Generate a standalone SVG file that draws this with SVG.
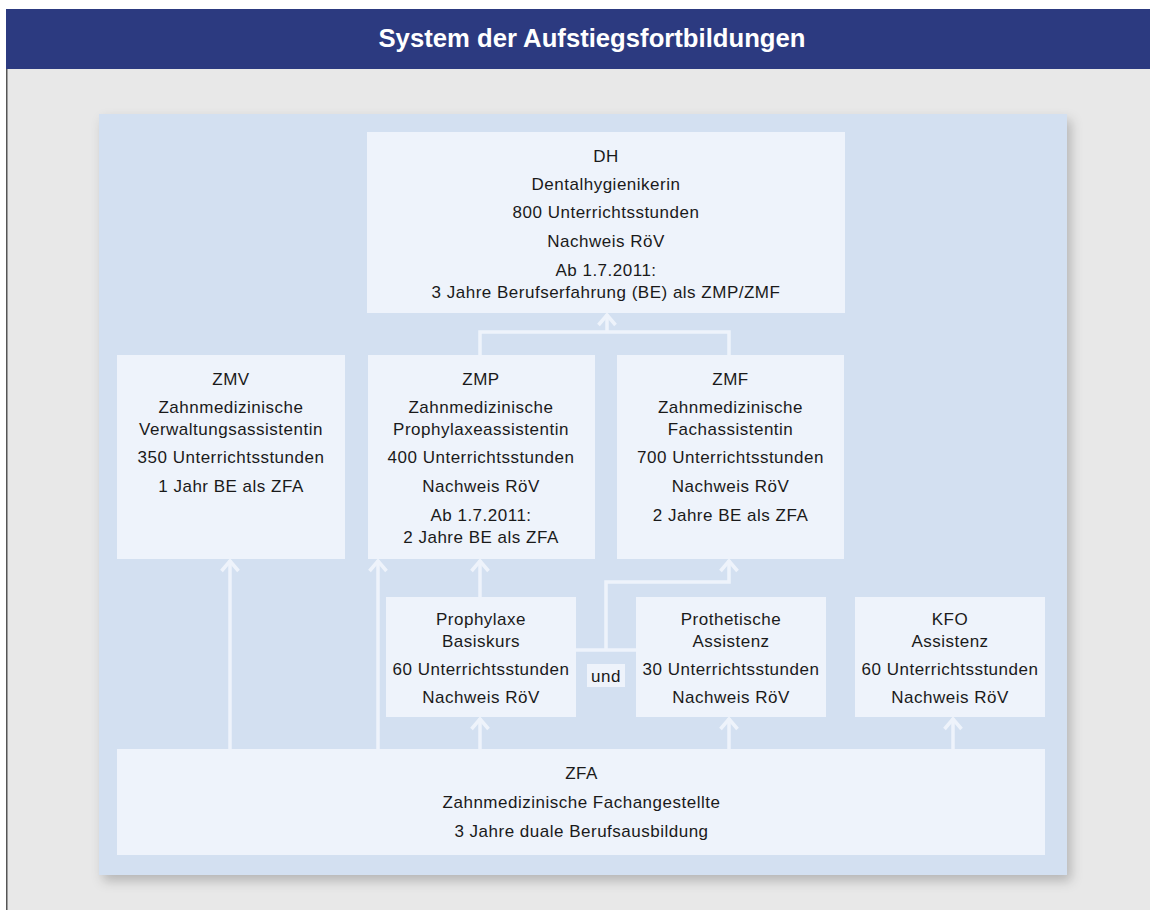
<svg xmlns="http://www.w3.org/2000/svg" width="1150" height="910" viewBox="0 0 1150 910">
  <defs>
    <filter id="shadow" x="-5%" y="-5%" width="110%" height="110%">
      <feDropShadow dx="4" dy="6" stdDeviation="6" flood-color="#000" flood-opacity="0.22"/>
    </filter>
    <marker id="arr" markerUnits="userSpaceOnUse" markerWidth="24" markerHeight="24" viewBox="-14 -12 16 24" refX="0" refY="0" orient="auto">
      <path d="M -11,-8.5 L -1,0 L -11,8.5" fill="none" stroke="#eef3fb" stroke-width="3.5" stroke-linejoin="miter"/>
    </marker>
    <style>
      .box { fill: #eef3fb; }
      .t { font-family: "Liberation Sans", Arial, sans-serif; font-size: 17px; letter-spacing: 0.5px; fill: #1a1a1a; text-anchor: middle; }
      .title { font-family: "Liberation Sans", Arial, sans-serif; font-weight: bold; font-size: 26px; fill: #ffffff; text-anchor: middle; }
      .c { fill: none; stroke: #eef3fb; stroke-width: 3.5; }
      .a { marker-end: url(#arr); }
    </style>
  </defs>

  <rect x="0" y="0" width="1150" height="910" fill="#ffffff"/>
  <rect x="6" y="69" width="1144" height="841" fill="#e8e8e8"/>
  <rect x="6" y="69" width="1.5" height="841" fill="#555555"/>
  <rect x="6" y="9" width="1144" height="60" fill="#2c3a80"/>
  <text class="title" x="592" y="47" textLength="427" lengthAdjust="spacingAndGlyphs">System der Aufstiegsfortbildungen</text>

  <rect x="99" y="114" width="968" height="761" fill="#d3e0f1" filter="url(#shadow)"/>

  <g id="connectors">
    <polyline class="c" points="480,355 480,332 729,332 729,355"/>
    <line class="c a" x1="607" y1="332" x2="607" y2="314"/>
    <line class="c a" x1="230" y1="749" x2="230" y2="560"/>
    <line class="c a" x1="378" y1="749" x2="378" y2="560"/>
    <line class="c a" x1="480" y1="597" x2="480" y2="560"/>
    <line class="c a" x1="480" y1="749" x2="480" y2="718"/>
    <line class="c a" x1="729" y1="749" x2="729" y2="718"/>
    <line class="c a" x1="953" y1="749" x2="953" y2="718"/>
    <line class="c" x1="576" y1="650" x2="636" y2="650"/>
    <polyline class="c a" points="606,650 606,582 729,582 729,560"/>
  </g>

  <g id="dh">
    <rect class="box" x="367" y="132" width="478" height="181"/>
    <text class="t" x="606" y="162">DH</text>
    <text class="t" x="606" y="190">Dentalhygienikerin</text>
    <text class="t" x="606" y="218">800 Unterrichtsstunden</text>
    <text class="t" x="606" y="247">Nachweis RöV</text>
    <text class="t" x="606" y="276">Ab 1.7.2011:</text>
    <text class="t" x="606" y="298">3 Jahre Berufserfahrung (BE) als ZMP/ZMF</text>
  </g>

  <g id="zmv">
    <rect class="box" x="117" y="355" width="228" height="204"/>
    <text class="t" x="231" y="385">ZMV</text>
    <text class="t" x="231" y="413">Zahnmedizinische</text>
    <text class="t" x="231" y="435">Verwaltungsassistentin</text>
    <text class="t" x="231" y="463">350 Unterrichtsstunden</text>
    <text class="t" x="231" y="492">1 Jahr BE als ZFA</text>
  </g>

  <g id="zmp">
    <rect class="box" x="368" y="355" width="227" height="204"/>
    <text class="t" x="481" y="385">ZMP</text>
    <text class="t" x="481" y="413">Zahnmedizinische</text>
    <text class="t" x="481" y="435">Prophylaxeassistentin</text>
    <text class="t" x="481" y="463">400 Unterrichtsstunden</text>
    <text class="t" x="481" y="492">Nachweis RöV</text>
    <text class="t" x="481" y="521">Ab 1.7.2011:</text>
    <text class="t" x="481" y="543">2 Jahre BE als ZFA</text>
  </g>

  <g id="zmf">
    <rect class="box" x="617" y="355" width="227" height="204"/>
    <text class="t" x="730.5" y="385">ZMF</text>
    <text class="t" x="730.5" y="413">Zahnmedizinische</text>
    <text class="t" x="730.5" y="435">Fachassistentin</text>
    <text class="t" x="730.5" y="463">700 Unterrichtsstunden</text>
    <text class="t" x="730.5" y="492">Nachweis RöV</text>
    <text class="t" x="730.5" y="521">2 Jahre BE als ZFA</text>
  </g>

  <g id="prophylaxe">
    <rect class="box" x="386" y="597" width="190" height="120"/>
    <text class="t" x="481" y="625">Prophylaxe</text>
    <text class="t" x="481" y="647">Basiskurs</text>
    <text class="t" x="481" y="675">60 Unterrichtsstunden</text>
    <text class="t" x="481" y="703">Nachweis RöV</text>
  </g>

  <g id="und">
    <rect class="box" x="587" y="664" width="38" height="23"/>
    <text class="t" x="606" y="682">und</text>
  </g>

  <g id="prothetik">
    <rect class="box" x="636" y="597" width="190" height="120"/>
    <text class="t" x="731" y="625">Prothetische</text>
    <text class="t" x="731" y="647">Assistenz</text>
    <text class="t" x="731" y="675">30 Unterrichtsstunden</text>
    <text class="t" x="731" y="703">Nachweis RöV</text>
  </g>

  <g id="kfo">
    <rect class="box" x="855" y="597" width="190" height="120"/>
    <text class="t" x="950" y="625">KFO</text>
    <text class="t" x="950" y="647">Assistenz</text>
    <text class="t" x="950" y="675">60 Unterrichtsstunden</text>
    <text class="t" x="950" y="703">Nachweis RöV</text>
  </g>

  <g id="zfa">
    <rect class="box" x="117" y="749" width="928" height="106"/>
    <text class="t" x="581.5" y="779">ZFA</text>
    <text class="t" x="581.5" y="808">Zahnmedizinische Fachangestellte</text>
    <text class="t" x="581.5" y="837">3 Jahre duale Berufsausbildung</text>
  </g>
</svg>
